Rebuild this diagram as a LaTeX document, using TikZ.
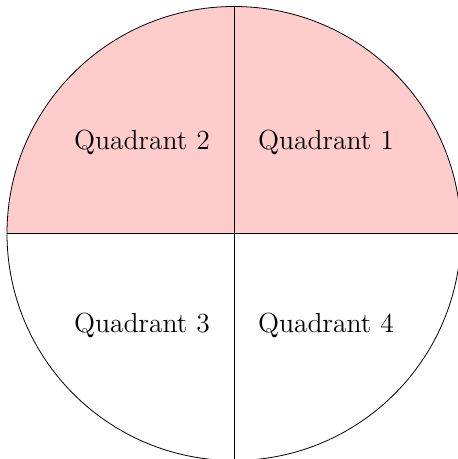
\documentclass[tikz,border=0pt]{standalone}
\tikzset{
  quadlabel/.style={font=\fontsize{13.8}{16}\selectfont, inner sep=0pt},
  quadline/.style={draw=black, line width=0.4pt}
}
\begin{document}
\begin{tikzpicture}[x=0.5pt,y=0.5pt]
\useasboundingbox (-234,-225.5) rectangle (223,233.5);
\coordinate (E) at (227,0);
\coordinate (W) at (-227,0);
\coordinate (N) at (0,227);
\coordinate (S) at (0,-227);
\fill[red!20] (E) arc (0:180:227) -- cycle;
\draw[quadline] (0,0) circle (227);
\draw[quadline] (W) -- (E);
\draw[quadline] (S) -- (N);
\node[quadlabel] (q1) at (92,91) {Quadrant 1};
\node[quadlabel] (q2) at (-92,91) {Quadrant 2};
\node[quadlabel] (q3) at (-92,-92) {Quadrant 3};
\node[quadlabel] (q4) at (92,-92) {Quadrant 4};
\end{tikzpicture}
\end{document}
